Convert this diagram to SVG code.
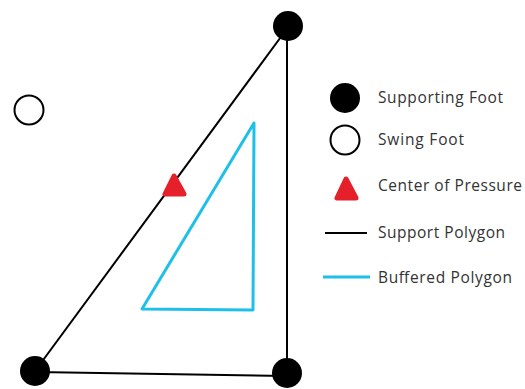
<svg xmlns="http://www.w3.org/2000/svg" width="525" height="389" viewBox="0 0 525 389">
<style>
.lbl{font-family:"Open Sans","Liberation Sans",sans-serif;font-size:15.5px;fill:#333}
.sup{stroke:#000;stroke-width:2;fill:none}
.buf{stroke:#1ec0ea;stroke-width:3;fill:none;stroke-linejoin:round}
.foot{fill:#000}
.swing{fill:#fff;stroke:#000;stroke-width:2}
.cop{fill:#e5202a;stroke:#e5202a;stroke-width:5;stroke-linejoin:round}
</style>
<rect width="525" height="389" fill="#fff"/>
<g id="connectors">
<line class="sup" x1="38" y1="367" x2="286" y2="30"/>
<line class="sup" x1="287" y1="26" x2="287" y2="372"/>
<line class="sup" x1="36" y1="372" x2="286" y2="376"/>
</g>
<g id="buffered-polygon"><polygon class="buf" points="142,309 254,123 253,310"/></g>
<g id="foot-top-right"><circle class="foot" cx="288" cy="26" r="15"/></g>
<g id="foot-bottom-left"><circle class="foot" cx="35" cy="371" r="15"/></g>
<g id="foot-bottom-right"><circle class="foot" cx="287" cy="373" r="15"/></g>
<g id="swing-foot"><circle class="swing" cx="29" cy="110" r="14.5"/></g>
<g id="cop"><polygon class="cop" points="174,176 165,194 184,194"/></g>
<g id="legend">
<circle class="foot" cx="345" cy="98" r="15"/>
<text class="lbl" x="378" y="103" textLength="125">Supporting Foot</text>
<circle class="swing" cx="345" cy="140" r="14.5"/>
<text class="lbl" x="378" y="145" textLength="86">Swing Foot</text>
<polygon class="cop" points="346,179 337,198 356,198"/>
<text class="lbl" x="378" y="191" textLength="144">Center of Pressure</text>
<line class="sup" x1="325" y1="233" x2="367" y2="233"/>
<text class="lbl" x="378" y="238" textLength="127">Support Polygon</text>
<line class="buf" x1="323" y1="277" x2="370" y2="277"/>
<text class="lbl" x="378" y="283" textLength="134">Buffered Polygon</text>
</g>
</svg>
